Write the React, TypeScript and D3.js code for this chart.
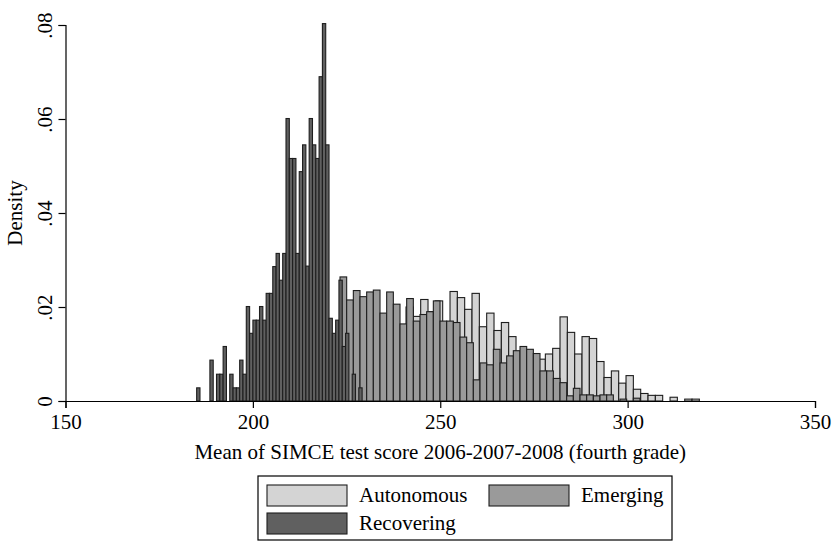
import React, { useEffect, useRef } from 'react';
import * as d3 from 'd3';

// bin layout for each group: first bin start, bin width (score units)
const recoveringStart = 185.0;
const recoveringWidth = 0.883;
const recoveringDensity = [
  0.0028, 0, 0, 0, 0.0087, 0, 0.0057, 0.0057, 0.0116, 0,
  0.0057, 0.0028, 0.0028, 0.0087, 0.0057, 0.0201, 0.0144, 0.0172, 0.0172, 0.0201,
  0.0172, 0.0229, 0.0229, 0.0286, 0.0314, 0.0257, 0.0314, 0.0601, 0.0516, 0.0516,
  0.0314, 0.0488, 0.0545, 0.0287, 0.0601, 0.0545, 0.0516, 0.069, 0.0803, 0.0545,
  0.0176, 0.0144, 0.0172, 0.0257, 0.0116, 0.0144, 0, 0.0057, 0, 0.0028,
];

const emergingStart = 223.25;
const emergingWidth = 1.779;
const emergingDensity = [
  0.0264, 0.0215, 0.0235, 0.0222, 0.0232, 0.0236, 0.0187, 0.0232, 0.0206, 0.0164,
  0.0218, 0.017, 0.0184, 0.019, 0.0213, 0.017, 0.017, 0.0167, 0.0136, 0.0124,
  0.0045, 0.0081, 0.0077, 0.011, 0.0081, 0.0096, 0.0107, 0.0116, 0.011, 0.0101,
  0.0064, 0.0064, 0.0048, 0.0039, 0.0011, 0.0027, 0.0013, 0.0013, 0.0011, 0.0013,
  0.0013, 0, 0.0004, 0, 0.0006,
];

const autonomousStart = 223.25;
const autonomousWidth = 1.957;
const autonomousDensity = [
  0.002, 0.003, 0.004, 0.006, 0.008, 0.01, 0.012, 0.014, 0.016, 0.02,
  0.018, 0.0216, 0.019, 0.0213, 0.016, 0.0233, 0.022, 0.0195, 0.0229, 0.0158,
  0.0187, 0.015, 0.0167, 0.0137, 0.0105, 0.0095, 0.009, 0.0089, 0.01, 0.0112,
  0.0179, 0.0146, 0.01, 0.0137, 0.0133, 0.0084, 0.005, 0.0064, 0.0038, 0.0054,
  0.0025, 0.0016, 0.0012, 0.0012, 0, 0.0008, 0, 0.0004, 0.0004,
];

const xTicks = [150, 200, 250, 300, 350];
const yTicks = [0, 0.02, 0.04, 0.06, 0.08];
const yTickLabels = ['0', '.02', '.04', '.06', '.08'];

const groups = [
  { name: 'Autonomous', start: autonomousStart, width: autonomousWidth, values: autonomousDensity, fill: '#d4d4d4' },
  { name: 'Emerging', start: emergingStart, width: emergingWidth, values: emergingDensity, fill: '#9a9a9a' },
  { name: 'Recovering', start: recoveringStart, width: recoveringWidth, values: recoveringDensity, fill: '#606060' },
];

const W = 834;
const H = 542;
const FONT = '"Liberation Serif", "DejaVu Serif", serif';

export default function App() {
  const svgRef = useRef<SVGSVGElement>(null);

  useEffect(() => {
    if (!svgRef.current) return;
    const svg = d3.select(svgRef.current);
    svg.selectAll('*').remove();

    const x = d3.scaleLinear().domain([150, 350]).range([65.5, 815]);
    const y = d3.scaleLinear().domain([0, 0.08]).range([401, 25]);

    svg.append('rect').attr('width', W).attr('height', H).attr('fill', '#fff');

    // Bars, drawn in order so Recovering sits on top
    groups.forEach(gr => {
      const bins = gr.values
        .map((v, i) => ({ x0: gr.start + i * gr.width, x1: gr.start + (i + 1) * gr.width, v }))
        .filter(b => b.v > 0);
      svg.append('g')
        .selectAll('rect')
        .data(bins)
        .enter()
        .append('rect')
        .attr('x', d => x(d.x0))
        .attr('y', d => y(d.v))
        .attr('width', d => x(d.x1) - x(d.x0))
        .attr('height', d => y(0) - y(d.v))
        .attr('fill', gr.fill)
        .attr('stroke', '#1e1e1e')
        .attr('stroke-width', 1.1);
    });

    // X axis
    const xa = svg.append('g').attr('transform', `translate(0,${y(0)})`)
      .call(d3.axisBottom(x).tickValues(xTicks).tickSize(7).tickPadding(6).tickFormat(d3.format('d')));
    xa.select('.domain').attr('stroke', '#000').attr('stroke-width', 1.2);
    xa.selectAll('.tick line').attr('stroke', '#000').attr('stroke-width', 1.2);
    xa.selectAll('text').attr('fill', '#000').style('font-family', FONT).style('font-size', '21px');

    // Y axis with rotated labels
    const ya = svg.append('g').attr('transform', `translate(${x(150)},0)`)
      .call(d3.axisLeft(y).tickValues(yTicks).tickSize(7).tickFormat((_, i) => yTickLabels[i]));
    ya.select('.domain').attr('stroke', '#000').attr('stroke-width', 1.2);
    ya.selectAll('.tick line').attr('stroke', '#000').attr('stroke-width', 1.2);
    ya.selectAll('text')
      .attr('fill', '#000')
      .attr('x', 0)
      .attr('dy', 0)
      .attr('transform', 'translate(-14,0) rotate(-90)')
      .attr('text-anchor', 'middle')
      .style('font-family', FONT)
      .style('font-size', '21px');

    svg.append('text')
      .attr('transform', `translate(22,${y(0.04)}) rotate(-90)`)
      .attr('text-anchor', 'middle')
      .style('font-family', FONT)
      .style('font-size', '21px')
      .text('Density');

    svg.append('text')
      .attr('x', (x(150) + x(350)) / 2)
      .attr('y', 459)
      .attr('text-anchor', 'middle')
      .style('font-family', FONT)
      .style('font-size', '21px')
      .text('Mean of SIMCE test score 2006-2007-2008 (fourth grade)');

    // Legend
    const lg = svg.append('g');
    lg.append('rect')
      .attr('x', 258).attr('y', 476).attr('width', 414).attr('height', 64)
      .attr('fill', '#fff').attr('stroke', '#000').attr('stroke-width', 1.2);
    const cols = [267, 489];
    const rows = [485, 513];
    groups.forEach((gr, i) => {
      const cx = cols[i % 2];
      const cy = rows[Math.floor(i / 2)];
      lg.append('rect')
        .attr('x', cx).attr('y', cy).attr('width', 80).attr('height', 21)
        .attr('fill', gr.fill).attr('stroke', '#1e1e1e').attr('stroke-width', 1.1);
      lg.append('text')
        .attr('x', cx + 92).attr('y', cy + 17)
        .style('font-family', FONT)
        .style('font-size', '21px')
        .text(gr.name);
    });
  }, []);

  return (
    <div style={{ position: 'fixed', left: 0, top: 0, width: W, height: H, background: '#fff' }}>
      <svg ref={svgRef} width={W} height={H} />
    </div>
  );
}
